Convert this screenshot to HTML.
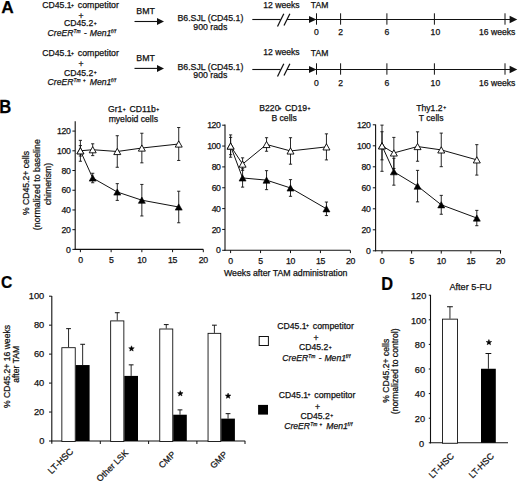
<!DOCTYPE html>
<html><head><meta charset="utf-8"><title>Figure</title>
<style>
html,body{margin:0;padding:0;background:#fff;}
body{width:520px;height:482px;overflow:hidden;}
svg{display:block;font-family:"Liberation Sans",sans-serif;}
text{stroke:#111;stroke-width:0.25px;}
</style></head>
<body>
<svg width="520" height="482" viewBox="0 0 520 482">
<rect width="520" height="482" fill="#fff"/>
<text transform="translate(1.17,13.4) scale(1.0,1)" x="0" y="0" font-size="17.3" font-weight="bold" fill="#000" stroke="#000" stroke-width="0.2">A</text>
<text x="136.28" y="13.8" font-size="8.8" text-anchor="start" font-weight="normal" font-style="normal" fill="#111" >BMT</text>
<line x1="134.5" y1="21.5" x2="158" y2="21.5" stroke="#111" stroke-width="1.1"/>
<path d="M157,18.0 L164,21.5 L157,25.0 Z" fill="#111" stroke="none" stroke-width="1.0" />
<text x="210.4" y="21.4" font-size="8.75" text-anchor="middle" font-weight="normal" font-style="normal" fill="#111" >B6.SJL (CD45.1)</text>
<text x="210.3" y="30.2" font-size="8.75" text-anchor="middle" font-weight="normal" font-style="normal" fill="#111" >900 rads</text>
<line x1="252.3" y1="19.5" x2="280.6" y2="19.5" stroke="#111" stroke-width="1.1"/>
<line x1="287.0" y1="19.5" x2="510" y2="19.5" stroke="#111" stroke-width="1.1"/>
<line x1="277.5" y1="26.5" x2="283.8" y2="13.8" stroke="#111" stroke-width="1.25"/>
<line x1="284.0" y1="25.5" x2="289.9" y2="13.8" stroke="#111" stroke-width="1.25"/>
<path d="M309,15.9 L316.4,19.5 L309,23.1 Z" fill="#111" stroke="none" stroke-width="1.0" />
<path d="M509.6,15.7 L517.3,19.5 L509.6,23.3 Z" fill="#111" stroke="none" stroke-width="1.0" />
<line x1="316.5" y1="13.3" x2="316.5" y2="24.7" stroke="#111" stroke-width="1.0"/>
<line x1="340.6" y1="13.3" x2="340.6" y2="24.7" stroke="#111" stroke-width="1.0"/>
<line x1="386.9" y1="13.3" x2="386.9" y2="24.7" stroke="#111" stroke-width="1.0"/>
<line x1="434.4" y1="13.3" x2="434.4" y2="24.7" stroke="#111" stroke-width="1.0"/>
<line x1="505.0" y1="13.3" x2="505.0" y2="24.7" stroke="#111" stroke-width="1.0"/>
<text x="281.5" y="8.1" font-size="8.6" text-anchor="middle" font-weight="normal" font-style="normal" fill="#111" >12 weeks</text>
<text x="319.6" y="8.3" font-size="8.6" text-anchor="middle" font-weight="normal" font-style="normal" fill="#111" >TAM</text>
<text x="316.5" y="35.1" font-size="8.6" text-anchor="middle" font-weight="normal" font-style="normal" fill="#111" >0</text>
<text x="340.6" y="35.1" font-size="8.6" text-anchor="middle" font-weight="normal" font-style="normal" fill="#111" >2</text>
<text x="386.9" y="35.1" font-size="8.6" text-anchor="middle" font-weight="normal" font-style="normal" fill="#111" >6</text>
<text x="435.4" y="35.1" font-size="8.6" text-anchor="middle" font-weight="normal" font-style="normal" fill="#111" >10</text>
<text x="497.2" y="35.1" font-size="8.6" text-anchor="middle" font-weight="normal" font-style="normal" fill="#111" >16 weeks</text>
<text x="136.28" y="61.0" font-size="8.8" text-anchor="start" font-weight="normal" font-style="normal" fill="#111" >BMT</text>
<line x1="134.5" y1="68.4" x2="158" y2="68.4" stroke="#111" stroke-width="1.1"/>
<path d="M157,64.9 L164,68.4 L157,71.9 Z" fill="#111" stroke="none" stroke-width="1.0" />
<text x="210.4" y="69.6" font-size="8.75" text-anchor="middle" font-weight="normal" font-style="normal" fill="#111" >B6.SJL (CD45.1)</text>
<text x="210.3" y="78.4" font-size="8.75" text-anchor="middle" font-weight="normal" font-style="normal" fill="#111" >900 rads</text>
<line x1="252.3" y1="69.5" x2="280.6" y2="69.5" stroke="#111" stroke-width="1.1"/>
<line x1="287.0" y1="69.5" x2="510" y2="69.5" stroke="#111" stroke-width="1.1"/>
<line x1="277.5" y1="76.5" x2="283.8" y2="63.8" stroke="#111" stroke-width="1.25"/>
<line x1="284.0" y1="75.5" x2="289.9" y2="63.8" stroke="#111" stroke-width="1.25"/>
<path d="M309,65.9 L316.4,69.5 L309,73.1 Z" fill="#111" stroke="none" stroke-width="1.0" />
<path d="M509.6,65.7 L517.3,69.5 L509.6,73.3 Z" fill="#111" stroke="none" stroke-width="1.0" />
<line x1="316.5" y1="63.3" x2="316.5" y2="74.7" stroke="#111" stroke-width="1.0"/>
<line x1="340.6" y1="63.3" x2="340.6" y2="74.7" stroke="#111" stroke-width="1.0"/>
<line x1="386.9" y1="63.3" x2="386.9" y2="74.7" stroke="#111" stroke-width="1.0"/>
<line x1="434.4" y1="63.3" x2="434.4" y2="74.7" stroke="#111" stroke-width="1.0"/>
<line x1="505.0" y1="63.3" x2="505.0" y2="74.7" stroke="#111" stroke-width="1.0"/>
<text x="281.5" y="55.0" font-size="8.6" text-anchor="middle" font-weight="normal" font-style="normal" fill="#111" >12 weeks</text>
<text x="319.6" y="56.3" font-size="8.6" text-anchor="middle" font-weight="normal" font-style="normal" fill="#111" >TAM</text>
<text x="316.5" y="85.7" font-size="8.6" text-anchor="middle" font-weight="normal" font-style="normal" fill="#111" >0</text>
<text x="340.6" y="85.7" font-size="8.6" text-anchor="middle" font-weight="normal" font-style="normal" fill="#111" >2</text>
<text x="386.9" y="85.7" font-size="8.6" text-anchor="middle" font-weight="normal" font-style="normal" fill="#111" >6</text>
<text x="435.4" y="85.7" font-size="8.6" text-anchor="middle" font-weight="normal" font-style="normal" fill="#111" >10</text>
<text x="497.2" y="85.7" font-size="8.6" text-anchor="middle" font-weight="normal" font-style="normal" fill="#111" >16 weeks</text>
<text x="42.36" y="8.1" font-size="8.65" text-anchor="start" font-weight="normal" font-style="normal" fill="#111" >CD45.1</text>
<text x="72.4" y="6.56" font-size="5.0" text-anchor="middle" font-weight="normal" font-style="normal" fill="#111"  stroke-width="0.12">+</text>
<text x="77.83" y="8.1" font-size="8.8" text-anchor="start" font-weight="normal" font-style="normal" fill="#111" >competitor</text>
<text x="80.9" y="18.88" font-size="8.65" text-anchor="middle" font-weight="normal" font-style="normal" fill="#111" >+</text>
<text x="63.96" y="26.299999999999997" font-size="8.65" text-anchor="start" font-weight="normal" font-style="normal" fill="#111" >CD45.2</text>
<text x="95.30000000000001" y="24.76" font-size="5.0" text-anchor="middle" font-weight="normal" font-style="normal" fill="#111"  stroke-width="0.12">+</text>
<text x="47.62" y="35.5" font-size="8.65" text-anchor="start" font-weight="normal" font-style="italic" fill="#111" >CreER</text>
<text x="73.56" y="32.5" font-size="4.9" text-anchor="start" font-weight="normal" font-style="italic" fill="#111"  stroke-width="0.12">Tm</text>
<text x="84.12" y="35.5" font-size="8.65" text-anchor="start" font-weight="normal" font-style="normal" fill="#111" >-</text>
<text x="89.73" y="35.5" font-size="8.65" text-anchor="start" font-weight="normal" font-style="italic" fill="#111" >Men1</text>
<text x="110.93" y="32.5" font-size="5.0" text-anchor="start" font-weight="normal" font-style="italic" fill="#111" letter-spacing="0.35" stroke-width="0.12">f/f</text>
<text x="42.36" y="56.1" font-size="8.65" text-anchor="start" font-weight="normal" font-style="normal" fill="#111" >CD45.1</text>
<text x="72.4" y="54.56" font-size="5.0" text-anchor="middle" font-weight="normal" font-style="normal" fill="#111"  stroke-width="0.12">+</text>
<text x="77.83" y="56.1" font-size="8.8" text-anchor="start" font-weight="normal" font-style="normal" fill="#111" >competitor</text>
<text x="80.9" y="66.88" font-size="8.65" text-anchor="middle" font-weight="normal" font-style="normal" fill="#111" >+</text>
<text x="63.96" y="75.7" font-size="8.65" text-anchor="start" font-weight="normal" font-style="normal" fill="#111" >CD45.2</text>
<text x="95.30000000000001" y="74.16" font-size="5.0" text-anchor="middle" font-weight="normal" font-style="normal" fill="#111"  stroke-width="0.12">+</text>
<text x="47.62" y="84.5" font-size="8.65" text-anchor="start" font-weight="normal" font-style="italic" fill="#111" >CreER</text>
<text x="73.56" y="81.5" font-size="4.9" text-anchor="start" font-weight="normal" font-style="italic" fill="#111"  stroke-width="0.12">Tm</text>
<text x="84.3" y="81.53" font-size="4.6" text-anchor="middle" font-weight="normal" font-style="normal" fill="#111"  stroke-width="0.12">+</text>
<text x="89.73" y="84.5" font-size="8.65" text-anchor="start" font-weight="normal" font-style="italic" fill="#111" >Men1</text>
<text x="110.93" y="81.5" font-size="5.0" text-anchor="start" font-weight="normal" font-style="italic" fill="#111" letter-spacing="0.35" stroke-width="0.12">f/f</text>
<text transform="translate(-0.71,113.4) scale(0.95,1)" x="0" y="0" font-size="17.5" font-weight="bold" fill="#000" stroke="#000" stroke-width="0.2">B</text>
<line x1="75.2" y1="121.2" x2="75.2" y2="249.9" stroke="#111" stroke-width="1.1"/>
<line x1="74.7" y1="249.4" x2="203.3" y2="249.4" stroke="#111" stroke-width="1.1"/>
<line x1="72.4" y1="249.4" x2="75.2" y2="249.4" stroke="#111" stroke-width="1.0"/>
<text x="70.5" y="252.5" font-size="8.7" text-anchor="end" font-weight="normal" font-style="normal" fill="#111" letter-spacing="-0.35">0</text>
<line x1="72.4" y1="229.68" x2="75.2" y2="229.68" stroke="#111" stroke-width="1.0"/>
<text x="70.5" y="232.78" font-size="8.7" text-anchor="end" font-weight="normal" font-style="normal" fill="#111" letter-spacing="-0.35">20</text>
<line x1="72.4" y1="209.96" x2="75.2" y2="209.96" stroke="#111" stroke-width="1.0"/>
<text x="70.5" y="213.06" font-size="8.7" text-anchor="end" font-weight="normal" font-style="normal" fill="#111" letter-spacing="-0.35">40</text>
<line x1="72.4" y1="190.24" x2="75.2" y2="190.24" stroke="#111" stroke-width="1.0"/>
<text x="70.5" y="193.34" font-size="8.7" text-anchor="end" font-weight="normal" font-style="normal" fill="#111" letter-spacing="-0.35">60</text>
<line x1="72.4" y1="170.52" x2="75.2" y2="170.52" stroke="#111" stroke-width="1.0"/>
<text x="70.5" y="173.62" font-size="8.7" text-anchor="end" font-weight="normal" font-style="normal" fill="#111" letter-spacing="-0.35">80</text>
<line x1="72.4" y1="150.8" x2="75.2" y2="150.8" stroke="#111" stroke-width="1.0"/>
<text x="70.5" y="153.9" font-size="8.7" text-anchor="end" font-weight="normal" font-style="normal" fill="#111" letter-spacing="-0.35">100</text>
<line x1="72.4" y1="131.08" x2="75.2" y2="131.08" stroke="#111" stroke-width="1.0"/>
<text x="70.5" y="134.18" font-size="8.7" text-anchor="end" font-weight="normal" font-style="normal" fill="#111" letter-spacing="-0.35">120</text>
<line x1="80.4" y1="249.4" x2="80.4" y2="252.20000000000002" stroke="#111" stroke-width="1.0"/>
<text x="80.4" y="262.9" font-size="8.7" text-anchor="middle" font-weight="normal" font-style="normal" fill="#111" letter-spacing="-0.35">0</text>
<line x1="111.125" y1="249.4" x2="111.125" y2="252.20000000000002" stroke="#111" stroke-width="1.0"/>
<text x="111.125" y="262.9" font-size="8.7" text-anchor="middle" font-weight="normal" font-style="normal" fill="#111" letter-spacing="-0.35">5</text>
<line x1="141.85" y1="249.4" x2="141.85" y2="252.20000000000002" stroke="#111" stroke-width="1.0"/>
<text x="141.85" y="262.9" font-size="8.7" text-anchor="middle" font-weight="normal" font-style="normal" fill="#111" letter-spacing="-0.35">10</text>
<line x1="172.575" y1="249.4" x2="172.575" y2="252.20000000000002" stroke="#111" stroke-width="1.0"/>
<text x="172.575" y="262.9" font-size="8.7" text-anchor="middle" font-weight="normal" font-style="normal" fill="#111" letter-spacing="-0.35">15</text>
<line x1="203.3" y1="249.4" x2="203.3" y2="252.20000000000002" stroke="#111" stroke-width="1.0"/>
<text x="203.3" y="262.9" font-size="8.7" text-anchor="middle" font-weight="normal" font-style="normal" fill="#111" letter-spacing="-0.35">20</text>
<line x1="80.4" y1="140.34840000000003" x2="80.4" y2="161.2516" stroke="#111" stroke-width="0.9"/>
<line x1="78.80000000000001" y1="140.34840000000003" x2="82.0" y2="140.34840000000003" stroke="#111" stroke-width="0.9"/>
<line x1="78.80000000000001" y1="161.2516" x2="82.0" y2="161.2516" stroke="#111" stroke-width="0.9"/>
<line x1="92.69" y1="173.2808" x2="92.69" y2="182.7464" stroke="#111" stroke-width="0.9"/>
<line x1="91.09" y1="173.2808" x2="94.28999999999999" y2="173.2808" stroke="#111" stroke-width="0.9"/>
<line x1="91.09" y1="182.7464" x2="94.28999999999999" y2="182.7464" stroke="#111" stroke-width="0.9"/>
<line x1="117.27000000000001" y1="183.6338" x2="117.27000000000001" y2="200.3958" stroke="#111" stroke-width="0.9"/>
<line x1="115.67000000000002" y1="183.6338" x2="118.87" y2="183.6338" stroke="#111" stroke-width="0.9"/>
<line x1="115.67000000000002" y1="200.3958" x2="118.87" y2="200.3958" stroke="#111" stroke-width="0.9"/>
<line x1="141.85" y1="184.4226" x2="141.85" y2="215.9746" stroke="#111" stroke-width="0.9"/>
<line x1="140.25" y1="184.4226" x2="143.45" y2="184.4226" stroke="#111" stroke-width="0.9"/>
<line x1="140.25" y1="215.9746" x2="143.45" y2="215.9746" stroke="#111" stroke-width="0.9"/>
<line x1="178.72" y1="191.226" x2="178.72" y2="222.77800000000002" stroke="#111" stroke-width="0.9"/>
<line x1="177.12" y1="191.226" x2="180.32" y2="191.226" stroke="#111" stroke-width="0.9"/>
<line x1="177.12" y1="222.77800000000002" x2="180.32" y2="222.77800000000002" stroke="#111" stroke-width="0.9"/>
<line x1="80.4" y1="145.57420000000002" x2="80.4" y2="156.0258" stroke="#111" stroke-width="0.9"/>
<line x1="78.80000000000001" y1="145.57420000000002" x2="82.0" y2="145.57420000000002" stroke="#111" stroke-width="0.9"/>
<line x1="78.80000000000001" y1="156.0258" x2="82.0" y2="156.0258" stroke="#111" stroke-width="0.9"/>
<line x1="92.69" y1="143.79940000000002" x2="92.69" y2="155.6314" stroke="#111" stroke-width="0.9"/>
<line x1="91.09" y1="143.79940000000002" x2="94.28999999999999" y2="143.79940000000002" stroke="#111" stroke-width="0.9"/>
<line x1="91.09" y1="155.6314" x2="94.28999999999999" y2="155.6314" stroke="#111" stroke-width="0.9"/>
<line x1="117.27000000000001" y1="135.7142" x2="117.27000000000001" y2="167.26620000000003" stroke="#111" stroke-width="0.9"/>
<line x1="115.67000000000002" y1="135.7142" x2="118.87" y2="135.7142" stroke="#111" stroke-width="0.9"/>
<line x1="115.67000000000002" y1="167.26620000000003" x2="118.87" y2="167.26620000000003" stroke="#111" stroke-width="0.9"/>
<line x1="141.85" y1="133.2492" x2="141.85" y2="162.8292" stroke="#111" stroke-width="0.9"/>
<line x1="140.25" y1="133.2492" x2="143.45" y2="133.2492" stroke="#111" stroke-width="0.9"/>
<line x1="140.25" y1="162.8292" x2="143.45" y2="162.8292" stroke="#111" stroke-width="0.9"/>
<line x1="178.72" y1="127.5304" x2="178.72" y2="160.46280000000002" stroke="#111" stroke-width="0.9"/>
<line x1="177.12" y1="127.5304" x2="180.32" y2="127.5304" stroke="#111" stroke-width="0.9"/>
<line x1="177.12" y1="160.46280000000002" x2="180.32" y2="160.46280000000002" stroke="#111" stroke-width="0.9"/>
<path d="M80.40,150.80 L92.69,149.72 L117.27,151.49 L141.85,148.04 L178.72,144.00" fill="none" stroke="#111" stroke-width="1.0" />
<path d="M80.40,150.80 L92.69,178.01 L117.27,192.01 L141.85,200.20 L178.72,207.00" fill="none" stroke="#111" stroke-width="1.0" />
<path d="M76.90,153.90 L80.40,147.70 L83.90,153.90 Z" fill="#000" stroke="#000" stroke-width="0.6" />
<path d="M89.19,181.11 L92.69,174.91 L96.19,181.11 Z" fill="#000" stroke="#000" stroke-width="0.6" />
<path d="M113.77,195.11 L117.27,188.91 L120.77,195.11 Z" fill="#000" stroke="#000" stroke-width="0.6" />
<path d="M138.35,203.30 L141.85,197.10 L145.35,203.30 Z" fill="#000" stroke="#000" stroke-width="0.6" />
<path d="M175.22,210.10 L178.72,203.90 L182.22,210.10 Z" fill="#000" stroke="#000" stroke-width="0.6" />
<path d="M76.90,153.90 L80.40,147.70 L83.90,153.90 Z" fill="#fff" stroke="#000" stroke-width="0.9" />
<path d="M89.19,152.82 L92.69,146.62 L96.19,152.82 Z" fill="#fff" stroke="#000" stroke-width="0.9" />
<path d="M113.77,154.59 L117.27,148.39 L120.77,154.59 Z" fill="#fff" stroke="#000" stroke-width="0.9" />
<path d="M138.35,151.14 L141.85,144.94 L145.35,151.14 Z" fill="#fff" stroke="#000" stroke-width="0.9" />
<path d="M175.22,147.10 L178.72,140.90 L182.22,147.10 Z" fill="#fff" stroke="#000" stroke-width="0.9" />
<text x="107.96" y="112.3" font-size="8.65" text-anchor="start" font-weight="normal" font-style="normal" fill="#111" >Gr1</text>
<text x="124.1" y="111.16" font-size="5.0" text-anchor="middle" font-weight="normal" font-style="normal" fill="#111"  stroke-width="0.12">+</text>
<text x="129.56" y="112.3" font-size="8.65" text-anchor="start" font-weight="normal" font-style="normal" fill="#111" >CD11b</text>
<text x="157.6" y="111.16" font-size="5.0" text-anchor="middle" font-weight="normal" font-style="normal" fill="#111"  stroke-width="0.12">+</text>
<text x="108.63" y="121.9" font-size="8.65" text-anchor="start" font-weight="normal" font-style="normal" fill="#111" >myeloid cells</text>
<line x1="225.0" y1="124.5" x2="225.0" y2="250.8" stroke="#111" stroke-width="1.1"/>
<line x1="224.5" y1="250.3" x2="350.2" y2="250.3" stroke="#111" stroke-width="1.1"/>
<line x1="222.2" y1="250.3" x2="225.0" y2="250.3" stroke="#111" stroke-width="1.0"/>
<text x="220.6" y="253.4" font-size="8.7" text-anchor="end" font-weight="normal" font-style="normal" fill="#111" letter-spacing="-0.35">0</text>
<line x1="222.2" y1="229.45000000000002" x2="225.0" y2="229.45000000000002" stroke="#111" stroke-width="1.0"/>
<text x="220.6" y="232.55" font-size="8.7" text-anchor="end" font-weight="normal" font-style="normal" fill="#111" letter-spacing="-0.35">20</text>
<line x1="222.2" y1="208.60000000000002" x2="225.0" y2="208.60000000000002" stroke="#111" stroke-width="1.0"/>
<text x="220.6" y="211.70000000000002" font-size="8.7" text-anchor="end" font-weight="normal" font-style="normal" fill="#111" letter-spacing="-0.35">40</text>
<line x1="222.2" y1="187.75" x2="225.0" y2="187.75" stroke="#111" stroke-width="1.0"/>
<text x="220.6" y="190.85" font-size="8.7" text-anchor="end" font-weight="normal" font-style="normal" fill="#111" letter-spacing="-0.35">60</text>
<line x1="222.2" y1="166.9" x2="225.0" y2="166.9" stroke="#111" stroke-width="1.0"/>
<text x="220.6" y="170.0" font-size="8.7" text-anchor="end" font-weight="normal" font-style="normal" fill="#111" letter-spacing="-0.35">80</text>
<line x1="222.2" y1="146.05" x2="225.0" y2="146.05" stroke="#111" stroke-width="1.0"/>
<text x="220.6" y="149.15" font-size="8.7" text-anchor="end" font-weight="normal" font-style="normal" fill="#111" letter-spacing="-0.35">100</text>
<line x1="222.2" y1="125.20000000000002" x2="225.0" y2="125.20000000000002" stroke="#111" stroke-width="1.0"/>
<text x="220.6" y="128.3" font-size="8.7" text-anchor="end" font-weight="normal" font-style="normal" fill="#111" letter-spacing="-0.35">120</text>
<line x1="230.6" y1="250.3" x2="230.6" y2="253.10000000000002" stroke="#111" stroke-width="1.0"/>
<text x="230.6" y="263.8" font-size="8.7" text-anchor="middle" font-weight="normal" font-style="normal" fill="#111" letter-spacing="-0.35">0</text>
<line x1="260.55" y1="250.3" x2="260.55" y2="253.10000000000002" stroke="#111" stroke-width="1.0"/>
<text x="260.55" y="263.8" font-size="8.7" text-anchor="middle" font-weight="normal" font-style="normal" fill="#111" letter-spacing="-0.35">5</text>
<line x1="290.5" y1="250.3" x2="290.5" y2="253.10000000000002" stroke="#111" stroke-width="1.0"/>
<text x="290.5" y="263.8" font-size="8.7" text-anchor="middle" font-weight="normal" font-style="normal" fill="#111" letter-spacing="-0.35">10</text>
<line x1="320.45" y1="250.3" x2="320.45" y2="253.10000000000002" stroke="#111" stroke-width="1.0"/>
<text x="320.45" y="263.8" font-size="8.7" text-anchor="middle" font-weight="normal" font-style="normal" fill="#111" letter-spacing="-0.35">15</text>
<line x1="350.4" y1="250.3" x2="350.4" y2="253.10000000000002" stroke="#111" stroke-width="1.0"/>
<text x="350.4" y="263.8" font-size="8.7" text-anchor="middle" font-weight="normal" font-style="normal" fill="#111" letter-spacing="-0.35">20</text>
<line x1="230.6" y1="137.39725" x2="230.6" y2="154.70275" stroke="#111" stroke-width="0.9"/>
<line x1="229.0" y1="137.39725" x2="232.2" y2="137.39725" stroke="#111" stroke-width="0.9"/>
<line x1="229.0" y1="154.70275" x2="232.2" y2="154.70275" stroke="#111" stroke-width="0.9"/>
<line x1="242.57999999999998" y1="168.7765" x2="242.57999999999998" y2="187.1245" stroke="#111" stroke-width="0.9"/>
<line x1="240.98" y1="168.7765" x2="244.17999999999998" y2="168.7765" stroke="#111" stroke-width="0.9"/>
<line x1="240.98" y1="187.1245" x2="244.17999999999998" y2="187.1245" stroke="#111" stroke-width="0.9"/>
<line x1="266.53999999999996" y1="170.65300000000002" x2="266.53999999999996" y2="189.62650000000002" stroke="#111" stroke-width="0.9"/>
<line x1="264.93999999999994" y1="170.65300000000002" x2="268.14" y2="170.65300000000002" stroke="#111" stroke-width="0.9"/>
<line x1="264.93999999999994" y1="189.62650000000002" x2="268.14" y2="189.62650000000002" stroke="#111" stroke-width="0.9"/>
<line x1="290.5" y1="179.6185" x2="290.5" y2="196.29850000000002" stroke="#111" stroke-width="0.9"/>
<line x1="288.9" y1="179.6185" x2="292.1" y2="179.6185" stroke="#111" stroke-width="0.9"/>
<line x1="288.9" y1="196.29850000000002" x2="292.1" y2="196.29850000000002" stroke="#111" stroke-width="0.9"/>
<line x1="326.44" y1="202.03225" x2="326.44" y2="215.58475" stroke="#111" stroke-width="0.9"/>
<line x1="324.84" y1="202.03225" x2="328.04" y2="202.03225" stroke="#111" stroke-width="0.9"/>
<line x1="324.84" y1="215.58475" x2="328.04" y2="215.58475" stroke="#111" stroke-width="0.9"/>
<line x1="230.6" y1="134.89525" x2="230.6" y2="157.20475000000002" stroke="#111" stroke-width="0.9"/>
<line x1="229.0" y1="134.89525" x2="232.2" y2="134.89525" stroke="#111" stroke-width="0.9"/>
<line x1="229.0" y1="157.20475000000002" x2="232.2" y2="157.20475000000002" stroke="#111" stroke-width="0.9"/>
<line x1="242.57999999999998" y1="157.83025000000004" x2="242.57999999999998" y2="170.34025000000003" stroke="#111" stroke-width="0.9"/>
<line x1="240.98" y1="157.83025000000004" x2="244.17999999999998" y2="157.83025000000004" stroke="#111" stroke-width="0.9"/>
<line x1="240.98" y1="170.34025000000003" x2="244.17999999999998" y2="170.34025000000003" stroke="#111" stroke-width="0.9"/>
<line x1="266.53999999999996" y1="137.71" x2="266.53999999999996" y2="151.26250000000002" stroke="#111" stroke-width="0.9"/>
<line x1="264.93999999999994" y1="137.71" x2="268.14" y2="137.71" stroke="#111" stroke-width="0.9"/>
<line x1="264.93999999999994" y1="151.26250000000002" x2="268.14" y2="151.26250000000002" stroke="#111" stroke-width="0.9"/>
<line x1="290.5" y1="137.71000000000004" x2="290.5" y2="164.1895" stroke="#111" stroke-width="0.9"/>
<line x1="288.9" y1="137.71000000000004" x2="292.1" y2="137.71000000000004" stroke="#111" stroke-width="0.9"/>
<line x1="288.9" y1="164.1895" x2="292.1" y2="164.1895" stroke="#111" stroke-width="0.9"/>
<line x1="326.44" y1="133.85275000000001" x2="326.44" y2="159.91525000000001" stroke="#111" stroke-width="0.9"/>
<line x1="324.84" y1="133.85275000000001" x2="328.04" y2="133.85275000000001" stroke="#111" stroke-width="0.9"/>
<line x1="324.84" y1="159.91525000000001" x2="328.04" y2="159.91525000000001" stroke="#111" stroke-width="0.9"/>
<path d="M230.60,146.05 L242.58,164.09 L266.54,144.49 L290.50,150.95 L326.44,146.88" fill="none" stroke="#111" stroke-width="1.0" />
<path d="M230.60,146.05 L242.58,177.95 L266.54,180.14 L290.50,187.96 L326.44,208.81" fill="none" stroke="#111" stroke-width="1.0" />
<path d="M227.10,149.15 L230.60,142.95 L234.10,149.15 Z" fill="#000" stroke="#000" stroke-width="0.6" />
<path d="M239.08,181.05 L242.58,174.85 L246.08,181.05 Z" fill="#000" stroke="#000" stroke-width="0.6" />
<path d="M263.04,183.24 L266.54,177.04 L270.04,183.24 Z" fill="#000" stroke="#000" stroke-width="0.6" />
<path d="M287.00,191.06 L290.50,184.86 L294.00,191.06 Z" fill="#000" stroke="#000" stroke-width="0.6" />
<path d="M322.94,211.91 L326.44,205.71 L329.94,211.91 Z" fill="#000" stroke="#000" stroke-width="0.6" />
<path d="M227.10,149.15 L230.60,142.95 L234.10,149.15 Z" fill="#fff" stroke="#000" stroke-width="0.9" />
<path d="M239.08,167.19 L242.58,160.99 L246.08,167.19 Z" fill="#fff" stroke="#000" stroke-width="0.9" />
<path d="M263.04,147.59 L266.54,141.39 L270.04,147.59 Z" fill="#fff" stroke="#000" stroke-width="0.9" />
<path d="M287.00,154.05 L290.50,147.85 L294.00,154.05 Z" fill="#fff" stroke="#000" stroke-width="0.9" />
<path d="M322.94,149.98 L326.44,143.78 L329.94,149.98 Z" fill="#fff" stroke="#000" stroke-width="0.9" />
<text x="259.29" y="111.3" font-size="8.65" text-anchor="start" font-weight="normal" font-style="normal" fill="#111" >B220</text>
<text x="279.9" y="109.86" font-size="5.0" text-anchor="middle" font-weight="normal" font-style="normal" fill="#111"  stroke-width="0.12">+</text>
<text x="284.96" y="111.3" font-size="8.65" text-anchor="start" font-weight="normal" font-style="normal" fill="#111" >CD19</text>
<text x="308.9" y="109.86" font-size="5.0" text-anchor="middle" font-weight="normal" font-style="normal" fill="#111"  stroke-width="0.12">+</text>
<text x="271.39" y="120.8" font-size="8.65" text-anchor="start" font-weight="normal" font-style="normal" fill="#111" >B cells</text>
<line x1="375.6" y1="124.5" x2="375.6" y2="251.3" stroke="#111" stroke-width="1.1"/>
<line x1="375.1" y1="250.8" x2="501.2" y2="250.8" stroke="#111" stroke-width="1.1"/>
<line x1="372.8" y1="250.8" x2="375.6" y2="250.8" stroke="#111" stroke-width="1.0"/>
<text x="370.5" y="253.9" font-size="8.7" text-anchor="end" font-weight="normal" font-style="normal" fill="#111" letter-spacing="-0.35">0</text>
<line x1="372.8" y1="229.8" x2="375.6" y2="229.8" stroke="#111" stroke-width="1.0"/>
<text x="370.5" y="232.9" font-size="8.7" text-anchor="end" font-weight="normal" font-style="normal" fill="#111" letter-spacing="-0.35">20</text>
<line x1="372.8" y1="208.8" x2="375.6" y2="208.8" stroke="#111" stroke-width="1.0"/>
<text x="370.5" y="211.9" font-size="8.7" text-anchor="end" font-weight="normal" font-style="normal" fill="#111" letter-spacing="-0.35">40</text>
<line x1="372.8" y1="187.8" x2="375.6" y2="187.8" stroke="#111" stroke-width="1.0"/>
<text x="370.5" y="190.9" font-size="8.7" text-anchor="end" font-weight="normal" font-style="normal" fill="#111" letter-spacing="-0.35">60</text>
<line x1="372.8" y1="166.8" x2="375.6" y2="166.8" stroke="#111" stroke-width="1.0"/>
<text x="370.5" y="169.9" font-size="8.7" text-anchor="end" font-weight="normal" font-style="normal" fill="#111" letter-spacing="-0.35">80</text>
<line x1="372.8" y1="145.8" x2="375.6" y2="145.8" stroke="#111" stroke-width="1.0"/>
<text x="370.5" y="148.9" font-size="8.7" text-anchor="end" font-weight="normal" font-style="normal" fill="#111" letter-spacing="-0.35">100</text>
<line x1="372.8" y1="124.80000000000001" x2="375.6" y2="124.80000000000001" stroke="#111" stroke-width="1.0"/>
<text x="370.5" y="127.9" font-size="8.7" text-anchor="end" font-weight="normal" font-style="normal" fill="#111" letter-spacing="-0.35">120</text>
<line x1="382.0" y1="250.8" x2="382.0" y2="253.60000000000002" stroke="#111" stroke-width="1.0"/>
<text x="382.0" y="264.3" font-size="8.7" text-anchor="middle" font-weight="normal" font-style="normal" fill="#111" letter-spacing="-0.35">0</text>
<line x1="411.625" y1="250.8" x2="411.625" y2="253.60000000000002" stroke="#111" stroke-width="1.0"/>
<text x="411.625" y="264.3" font-size="8.7" text-anchor="middle" font-weight="normal" font-style="normal" fill="#111" letter-spacing="-0.35">5</text>
<line x1="441.25" y1="250.8" x2="441.25" y2="253.60000000000002" stroke="#111" stroke-width="1.0"/>
<text x="441.25" y="264.3" font-size="8.7" text-anchor="middle" font-weight="normal" font-style="normal" fill="#111" letter-spacing="-0.35">10</text>
<line x1="470.875" y1="250.8" x2="470.875" y2="253.60000000000002" stroke="#111" stroke-width="1.0"/>
<text x="470.875" y="264.3" font-size="8.7" text-anchor="middle" font-weight="normal" font-style="normal" fill="#111" letter-spacing="-0.35">15</text>
<line x1="500.5" y1="250.8" x2="500.5" y2="253.60000000000002" stroke="#111" stroke-width="1.0"/>
<text x="500.5" y="264.3" font-size="8.7" text-anchor="middle" font-weight="normal" font-style="normal" fill="#111" letter-spacing="-0.35">20</text>
<line x1="382.0" y1="125.11500000000001" x2="382.0" y2="171.315" stroke="#111" stroke-width="0.9"/>
<line x1="380.4" y1="125.11500000000001" x2="383.6" y2="125.11500000000001" stroke="#111" stroke-width="0.9"/>
<line x1="380.4" y1="171.315" x2="383.6" y2="171.315" stroke="#111" stroke-width="0.9"/>
<line x1="393.85" y1="158.29500000000002" x2="393.85" y2="185.175" stroke="#111" stroke-width="0.9"/>
<line x1="392.25" y1="158.29500000000002" x2="395.45000000000005" y2="158.29500000000002" stroke="#111" stroke-width="0.9"/>
<line x1="392.25" y1="185.175" x2="395.45000000000005" y2="185.175" stroke="#111" stroke-width="0.9"/>
<line x1="417.55" y1="170.37" x2="417.55" y2="201.87" stroke="#111" stroke-width="0.9"/>
<line x1="415.95" y1="170.37" x2="419.15000000000003" y2="170.37" stroke="#111" stroke-width="0.9"/>
<line x1="415.95" y1="201.87" x2="419.15000000000003" y2="201.87" stroke="#111" stroke-width="0.9"/>
<line x1="441.25" y1="195.36" x2="441.25" y2="214.26" stroke="#111" stroke-width="0.9"/>
<line x1="439.65" y1="195.36" x2="442.85" y2="195.36" stroke="#111" stroke-width="0.9"/>
<line x1="439.65" y1="214.26" x2="442.85" y2="214.26" stroke="#111" stroke-width="0.9"/>
<line x1="476.8" y1="210.37500000000003" x2="476.8" y2="225.705" stroke="#111" stroke-width="0.9"/>
<line x1="475.2" y1="210.37500000000003" x2="478.40000000000003" y2="210.37500000000003" stroke="#111" stroke-width="0.9"/>
<line x1="475.2" y1="225.705" x2="478.40000000000003" y2="225.705" stroke="#111" stroke-width="0.9"/>
<line x1="382.0" y1="131.73000000000002" x2="382.0" y2="159.87" stroke="#111" stroke-width="0.9"/>
<line x1="380.4" y1="131.73000000000002" x2="383.6" y2="131.73000000000002" stroke="#111" stroke-width="0.9"/>
<line x1="380.4" y1="159.87" x2="383.6" y2="159.87" stroke="#111" stroke-width="0.9"/>
<line x1="393.85" y1="137.4" x2="393.85" y2="168.48" stroke="#111" stroke-width="0.9"/>
<line x1="392.25" y1="137.4" x2="395.45000000000005" y2="137.4" stroke="#111" stroke-width="0.9"/>
<line x1="392.25" y1="168.48" x2="395.45000000000005" y2="168.48" stroke="#111" stroke-width="0.9"/>
<line x1="417.55" y1="131.83500000000004" x2="417.55" y2="161.235" stroke="#111" stroke-width="0.9"/>
<line x1="415.95" y1="131.83500000000004" x2="419.15000000000003" y2="131.83500000000004" stroke="#111" stroke-width="0.9"/>
<line x1="415.95" y1="161.235" x2="419.15000000000003" y2="161.235" stroke="#111" stroke-width="0.9"/>
<line x1="441.25" y1="133.095" x2="441.25" y2="166.69500000000002" stroke="#111" stroke-width="0.9"/>
<line x1="439.65" y1="133.095" x2="442.85" y2="133.095" stroke="#111" stroke-width="0.9"/>
<line x1="439.65" y1="166.69500000000002" x2="442.85" y2="166.69500000000002" stroke="#111" stroke-width="0.9"/>
<line x1="476.8" y1="144.645" x2="476.8" y2="175.095" stroke="#111" stroke-width="0.9"/>
<line x1="475.2" y1="144.645" x2="478.40000000000003" y2="144.645" stroke="#111" stroke-width="0.9"/>
<line x1="475.2" y1="175.095" x2="478.40000000000003" y2="175.095" stroke="#111" stroke-width="0.9"/>
<path d="M382.00,145.80 L393.85,152.94 L417.55,146.54 L441.25,149.90 L476.80,159.87" fill="none" stroke="#111" stroke-width="1.0" />
<path d="M382.00,145.80 L393.85,171.74 L417.55,186.12 L441.25,204.81 L476.80,218.04" fill="none" stroke="#111" stroke-width="1.0" />
<path d="M378.50,148.90 L382.00,142.70 L385.50,148.90 Z" fill="#000" stroke="#000" stroke-width="0.6" />
<path d="M390.35,174.84 L393.85,168.64 L397.35,174.84 Z" fill="#000" stroke="#000" stroke-width="0.6" />
<path d="M414.05,189.22 L417.55,183.02 L421.05,189.22 Z" fill="#000" stroke="#000" stroke-width="0.6" />
<path d="M437.75,207.91 L441.25,201.71 L444.75,207.91 Z" fill="#000" stroke="#000" stroke-width="0.6" />
<path d="M473.30,221.14 L476.80,214.94 L480.30,221.14 Z" fill="#000" stroke="#000" stroke-width="0.6" />
<path d="M378.50,148.90 L382.00,142.70 L385.50,148.90 Z" fill="#fff" stroke="#000" stroke-width="0.9" />
<path d="M390.35,156.04 L393.85,149.84 L397.35,156.04 Z" fill="#fff" stroke="#000" stroke-width="0.9" />
<path d="M414.05,149.64 L417.55,143.44 L421.05,149.64 Z" fill="#fff" stroke="#000" stroke-width="0.9" />
<path d="M437.75,153.00 L441.25,146.80 L444.75,153.00 Z" fill="#fff" stroke="#000" stroke-width="0.9" />
<path d="M473.30,162.97 L476.80,156.77 L480.30,162.97 Z" fill="#fff" stroke="#000" stroke-width="0.9" />
<text x="416.21" y="110.5" font-size="8.65" text-anchor="start" font-weight="normal" font-style="normal" fill="#111" >Thy1.2</text>
<text x="444.6" y="108.86" font-size="5.0" text-anchor="middle" font-weight="normal" font-style="normal" fill="#111"  stroke-width="0.12">+</text>
<text x="418.81" y="120.7" font-size="8.65" text-anchor="start" font-weight="normal" font-style="normal" fill="#111" >T cells</text>
<text x="223.96" y="276.0" font-size="8.75" text-anchor="start" font-weight="normal" font-style="normal" fill="#111" >Weeks after TAM administration</text>
<text transform="translate(29.0,183.0) rotate(-90)" x="0" y="0" font-size="8.65" text-anchor="middle" fill="#111">% CD45.2+ cells</text>
<text transform="translate(40.3,184.7) rotate(-90)" x="0" y="0" font-size="8.8" text-anchor="middle" fill="#111">(normalized to baseline</text>
<text transform="translate(50.6,184.0) rotate(-90)" x="0" y="0" font-size="8.65" text-anchor="middle" fill="#111">chimerism)</text>
<text transform="translate(0.96,288.4) scale(0.9,1)" x="0" y="0" font-size="17.4" font-weight="bold" fill="#000" stroke="#000" stroke-width="0.2">C</text>
<line x1="51.8" y1="295.9" x2="51.8" y2="443.8" stroke="#111" stroke-width="1.1"/>
<line x1="51.3" y1="441.0" x2="245.2" y2="441.0" stroke="#111" stroke-width="1.1"/>
<line x1="49.0" y1="441.0" x2="51.8" y2="441.0" stroke="#111" stroke-width="1.0"/>
<text x="44.3" y="444.2" font-size="9.3" text-anchor="end" font-weight="normal" font-style="normal" fill="#111" >0</text>
<line x1="49.0" y1="412.04" x2="51.8" y2="412.04" stroke="#111" stroke-width="1.0"/>
<text x="44.3" y="415.24" font-size="9.3" text-anchor="end" font-weight="normal" font-style="normal" fill="#111" >20</text>
<line x1="49.0" y1="383.08" x2="51.8" y2="383.08" stroke="#111" stroke-width="1.0"/>
<text x="44.3" y="386.28" font-size="9.3" text-anchor="end" font-weight="normal" font-style="normal" fill="#111" >40</text>
<line x1="49.0" y1="354.12" x2="51.8" y2="354.12" stroke="#111" stroke-width="1.0"/>
<text x="44.3" y="357.32" font-size="9.3" text-anchor="end" font-weight="normal" font-style="normal" fill="#111" >60</text>
<line x1="49.0" y1="325.15999999999997" x2="51.8" y2="325.15999999999997" stroke="#111" stroke-width="1.0"/>
<text x="44.3" y="328.35999999999996" font-size="9.3" text-anchor="end" font-weight="normal" font-style="normal" fill="#111" >80</text>
<line x1="49.0" y1="296.20000000000005" x2="51.8" y2="296.20000000000005" stroke="#111" stroke-width="1.0"/>
<text x="44.3" y="299.40000000000003" font-size="9.3" text-anchor="end" font-weight="normal" font-style="normal" fill="#111" >100</text>
<line x1="100.3" y1="441.0" x2="100.3" y2="444.0" stroke="#111" stroke-width="1.0"/>
<line x1="148.6" y1="441.0" x2="148.6" y2="444.0" stroke="#111" stroke-width="1.0"/>
<line x1="196.9" y1="441.0" x2="196.9" y2="444.0" stroke="#111" stroke-width="1.0"/>
<line x1="245.0" y1="441.0" x2="245.0" y2="444.0" stroke="#111" stroke-width="1.0"/>
<line x1="68.55" y1="328.656" x2="68.55" y2="347.2352" stroke="#111" stroke-width="0.9"/>
<line x1="66.14999999999999" y1="328.656" x2="70.95" y2="328.656" stroke="#111" stroke-width="1.0"/>
<rect x="61.85" y="347.6852" width="13.400000000000004" height="93.76479999999998" fill="#fff" stroke="#111" stroke-width="0.9"/>
<line x1="82.65" y1="344.2944" x2="82.65" y2="365.04560000000004" stroke="#111" stroke-width="0.9"/>
<line x1="80.25" y1="344.2944" x2="85.05000000000001" y2="344.2944" stroke="#111" stroke-width="1.0"/>
<rect x="75.7" y="365.04560000000004" width="13.899999999999991" height="75.95439999999996" fill="#000"/>
<line x1="117.25" y1="312.72800000000007" x2="117.25" y2="320.4472" stroke="#111" stroke-width="0.9"/>
<line x1="114.85" y1="312.72800000000007" x2="119.65" y2="312.72800000000007" stroke="#111" stroke-width="1.0"/>
<rect x="110.65" y="320.8972" width="13.199999999999994" height="120.55279999999999" fill="#fff" stroke="#111" stroke-width="0.9"/>
<line x1="131.15" y1="364.856" x2="131.15" y2="375.9056" stroke="#111" stroke-width="0.9"/>
<line x1="128.75" y1="364.856" x2="133.55" y2="364.856" stroke="#111" stroke-width="1.0"/>
<rect x="124.3" y="375.9056" width="13.700000000000003" height="65.09440000000001" fill="#000"/>
<polygon points="131.50,345.80 132.23,347.69 134.26,347.80 132.69,349.09 133.20,351.05 131.50,349.95 129.80,351.05 130.31,349.09 128.74,347.80 130.77,347.69" fill="#000" stroke="#000" stroke-width="0.5" stroke-linejoin="round"/>
<line x1="166.25" y1="324.6016" x2="166.25" y2="328.556" stroke="#111" stroke-width="0.9"/>
<line x1="163.85" y1="324.6016" x2="168.65" y2="324.6016" stroke="#111" stroke-width="1.0"/>
<rect x="159.75" y="329.006" width="12.999999999999977" height="112.44400000000002" fill="#fff" stroke="#111" stroke-width="0.9"/>
<line x1="180.0" y1="409.8888" x2="180.0" y2="414.712" stroke="#111" stroke-width="0.9"/>
<line x1="177.6" y1="409.8888" x2="182.4" y2="409.8888" stroke="#111" stroke-width="1.0"/>
<rect x="173.2" y="414.712" width="13.600000000000023" height="26.28800000000001" fill="#000"/>
<polygon points="180.30,390.70 181.03,392.59 183.06,392.70 181.49,393.99 182.00,395.95 180.30,394.85 178.60,395.95 179.11,393.99 177.54,392.70 179.57,392.59" fill="#000" stroke="#000" stroke-width="0.5" stroke-linejoin="round"/>
<line x1="214.39999999999998" y1="325.18080000000003" x2="214.39999999999998" y2="332.9" stroke="#111" stroke-width="0.9"/>
<line x1="211.99999999999997" y1="325.18080000000003" x2="216.79999999999998" y2="325.18080000000003" stroke="#111" stroke-width="1.0"/>
<rect x="208.04999999999998" y="333.34999999999997" width="12.699999999999994" height="108.10000000000002" fill="#fff" stroke="#111" stroke-width="0.9"/>
<line x1="228.05" y1="413.65360000000004" x2="228.05" y2="418.6216" stroke="#111" stroke-width="0.9"/>
<line x1="225.65" y1="413.65360000000004" x2="230.45000000000002" y2="413.65360000000004" stroke="#111" stroke-width="1.0"/>
<rect x="221.2" y="418.6216" width="13.700000000000017" height="22.3784" fill="#000"/>
<polygon points="228.10,393.10 228.83,394.99 230.86,395.10 229.29,396.39 229.80,398.35 228.10,397.25 226.40,398.35 226.91,396.39 225.34,395.10 227.37,394.99" fill="#000" stroke="#000" stroke-width="0.5" stroke-linejoin="round"/>
<text transform="translate(74.0,452.0) rotate(-45)" x="0" y="0" font-size="9.1" text-anchor="end" fill="#111" stroke-width="0.12">LT-HSC</text>
<text transform="translate(128.8,453.5) rotate(-45)" x="0" y="0" font-size="8.7" text-anchor="end" fill="#111" stroke-width="0.12">Other LSK</text>
<text transform="translate(176.0,455.0) rotate(-45)" x="0" y="0" font-size="8.7" text-anchor="end" fill="#111" stroke-width="0.12">CMP</text>
<text transform="translate(227.8,455.0) rotate(-45)" x="0" y="0" font-size="8.7" text-anchor="end" fill="#111" stroke-width="0.12">GMP</text>
<text transform="translate(10.0,366.5) rotate(-90)" x="0" y="0" font-size="8.65" text-anchor="middle" fill="#111">% CD45.2+ 16 weeks</text>
<text transform="translate(19.0,364.3) rotate(-90)" x="0" y="0" font-size="8.65" text-anchor="middle" fill="#111">after TAM</text>
<rect x="259.2" y="336.5" width="9.2" height="9.0" fill="#fff" stroke="#111" stroke-width="1.0"/>
<rect x="258.1" y="404.9" width="9.9" height="9.7" fill="#000"/>
<text x="277.36" y="328.9" font-size="8.65" text-anchor="start" font-weight="normal" font-style="normal" fill="#111" >CD45.1</text>
<text x="307.40000000000003" y="327.36" font-size="5.0" text-anchor="middle" font-weight="normal" font-style="normal" fill="#111"  stroke-width="0.12">+</text>
<text x="312.83" y="328.9" font-size="8.8" text-anchor="start" font-weight="normal" font-style="normal" fill="#111" >competitor</text>
<text x="315.90000000000003" y="340.88" font-size="8.65" text-anchor="middle" font-weight="normal" font-style="normal" fill="#111" >+</text>
<text x="298.96" y="350.29999999999995" font-size="8.65" text-anchor="start" font-weight="normal" font-style="normal" fill="#111" >CD45.2</text>
<text x="330.3" y="348.76" font-size="5.0" text-anchor="middle" font-weight="normal" font-style="normal" fill="#111"  stroke-width="0.12">+</text>
<text x="282.32" y="360.5" font-size="8.65" text-anchor="start" font-weight="normal" font-style="italic" fill="#111" >CreER</text>
<text x="308.26" y="357.5" font-size="4.9" text-anchor="start" font-weight="normal" font-style="italic" fill="#111"  stroke-width="0.12">Tm</text>
<text x="318.82" y="360.5" font-size="8.65" text-anchor="start" font-weight="normal" font-style="normal" fill="#111" >-</text>
<text x="324.43" y="360.5" font-size="8.65" text-anchor="start" font-weight="normal" font-style="italic" fill="#111" >Men1</text>
<text x="345.63" y="357.5" font-size="5.0" text-anchor="start" font-weight="normal" font-style="italic" fill="#111" letter-spacing="0.35" stroke-width="0.12">f/f</text>
<text x="278.86" y="397.9" font-size="8.65" text-anchor="start" font-weight="normal" font-style="normal" fill="#111" >CD45.1</text>
<text x="308.90000000000003" y="396.36" font-size="5.0" text-anchor="middle" font-weight="normal" font-style="normal" fill="#111"  stroke-width="0.12">+</text>
<text x="314.33" y="397.9" font-size="8.8" text-anchor="start" font-weight="normal" font-style="normal" fill="#111" >competitor</text>
<text x="317.40000000000003" y="410.18" font-size="8.65" text-anchor="middle" font-weight="normal" font-style="normal" fill="#111" >+</text>
<text x="300.46" y="418.59999999999997" font-size="8.65" text-anchor="start" font-weight="normal" font-style="normal" fill="#111" >CD45.2</text>
<text x="331.8" y="417.06" font-size="5.0" text-anchor="middle" font-weight="normal" font-style="normal" fill="#111"  stroke-width="0.12">+</text>
<text x="284.22" y="429.2" font-size="8.65" text-anchor="start" font-weight="normal" font-style="italic" fill="#111" >CreER</text>
<text x="310.16" y="426.2" font-size="4.9" text-anchor="start" font-weight="normal" font-style="italic" fill="#111"  stroke-width="0.12">Tm</text>
<text x="320.9" y="426.23" font-size="4.6" text-anchor="middle" font-weight="normal" font-style="normal" fill="#111"  stroke-width="0.12">+</text>
<text x="326.33" y="429.2" font-size="8.65" text-anchor="start" font-weight="normal" font-style="italic" fill="#111" >Men1</text>
<text x="347.53" y="426.2" font-size="5.0" text-anchor="start" font-weight="normal" font-style="italic" fill="#111" letter-spacing="0.35" stroke-width="0.12">f/f</text>
<text transform="translate(381.31,289.6) scale(0.93,1)" x="0" y="0" font-size="17.6" font-weight="bold" fill="#000" stroke="#000" stroke-width="0.2">D</text>
<text x="449.38" y="289.6" font-size="9.2" text-anchor="start" font-weight="normal" font-style="normal" fill="#111" >After 5-FU</text>
<line x1="430.5" y1="294.9" x2="430.5" y2="443.3" stroke="#111" stroke-width="1.1"/>
<line x1="430.0" y1="442.8" x2="508.0" y2="442.8" stroke="#111" stroke-width="1.1"/>
<line x1="428.8" y1="442.8" x2="430.5" y2="442.8" stroke="#111" stroke-width="1.0"/>
<text x="424.1" y="446.6" font-size="9.2" text-anchor="end" font-weight="normal" font-style="normal" fill="#111" >0</text>
<line x1="428.8" y1="418.2" x2="430.5" y2="418.2" stroke="#111" stroke-width="1.0"/>
<text x="425.0" y="422.0" font-size="9.2" text-anchor="end" font-weight="normal" font-style="normal" fill="#111" >20</text>
<line x1="428.8" y1="393.6" x2="430.5" y2="393.6" stroke="#111" stroke-width="1.0"/>
<text x="425.0" y="397.40000000000003" font-size="9.2" text-anchor="end" font-weight="normal" font-style="normal" fill="#111" >40</text>
<line x1="428.8" y1="369.0" x2="430.5" y2="369.0" stroke="#111" stroke-width="1.0"/>
<text x="425.0" y="372.8" font-size="9.2" text-anchor="end" font-weight="normal" font-style="normal" fill="#111" >60</text>
<line x1="428.8" y1="344.4" x2="430.5" y2="344.4" stroke="#111" stroke-width="1.0"/>
<text x="425.0" y="348.2" font-size="9.2" text-anchor="end" font-weight="normal" font-style="normal" fill="#111" >80</text>
<line x1="428.8" y1="319.8" x2="430.5" y2="319.8" stroke="#111" stroke-width="1.0"/>
<text x="426.3" y="323.6" font-size="9.2" text-anchor="end" font-weight="normal" font-style="normal" fill="#111" >100</text>
<line x1="428.8" y1="295.20000000000005" x2="430.5" y2="295.20000000000005" stroke="#111" stroke-width="1.0"/>
<text x="426.3" y="299.00000000000006" font-size="9.2" text-anchor="end" font-weight="normal" font-style="normal" fill="#111" >120</text>
<line x1="449.95" y1="306.76200000000006" x2="449.95" y2="318.693" stroke="#111" stroke-width="0.9"/>
<line x1="447.05" y1="306.76200000000006" x2="452.84999999999997" y2="306.76200000000006" stroke="#111" stroke-width="1.0"/>
<rect x="442.45" y="319.143" width="14.999999999999977" height="124.10700000000003" fill="#fff" stroke="#111" stroke-width="0.9"/>
<line x1="488.4" y1="353.502" x2="488.4" y2="368.754" stroke="#111" stroke-width="0.9"/>
<line x1="485.5" y1="353.502" x2="491.29999999999995" y2="353.502" stroke="#111" stroke-width="1.0"/>
<rect x="481.0" y="368.754" width="14.800000000000011" height="74.04599999999999" fill="#000"/>
<polygon points="488.90,339.50 489.63,341.39 491.66,341.50 490.09,342.79 490.60,344.75 488.90,343.65 487.20,344.75 487.71,342.79 486.14,341.50 488.17,341.39" fill="#000" stroke="#000" stroke-width="0.5" stroke-linejoin="round"/>
<text transform="translate(454.6,456.6) rotate(-45)" x="0" y="0" font-size="9.0" text-anchor="end" fill="#111" stroke-width="0.12">LT-HSC</text>
<text transform="translate(494.6,456.6) rotate(-45)" x="0" y="0" font-size="9.0" text-anchor="end" fill="#111" stroke-width="0.12">LT-HSC</text>
<text transform="translate(389.3,370.8) rotate(-90)" x="0" y="0" font-size="8.65" text-anchor="middle" fill="#111">% CD45.2+ cells</text>
<text transform="translate(397.6,371.3) rotate(-90)" x="0" y="0" font-size="8.65" text-anchor="middle" fill="#111">(normalized to control)</text>
</svg>
</body></html>
